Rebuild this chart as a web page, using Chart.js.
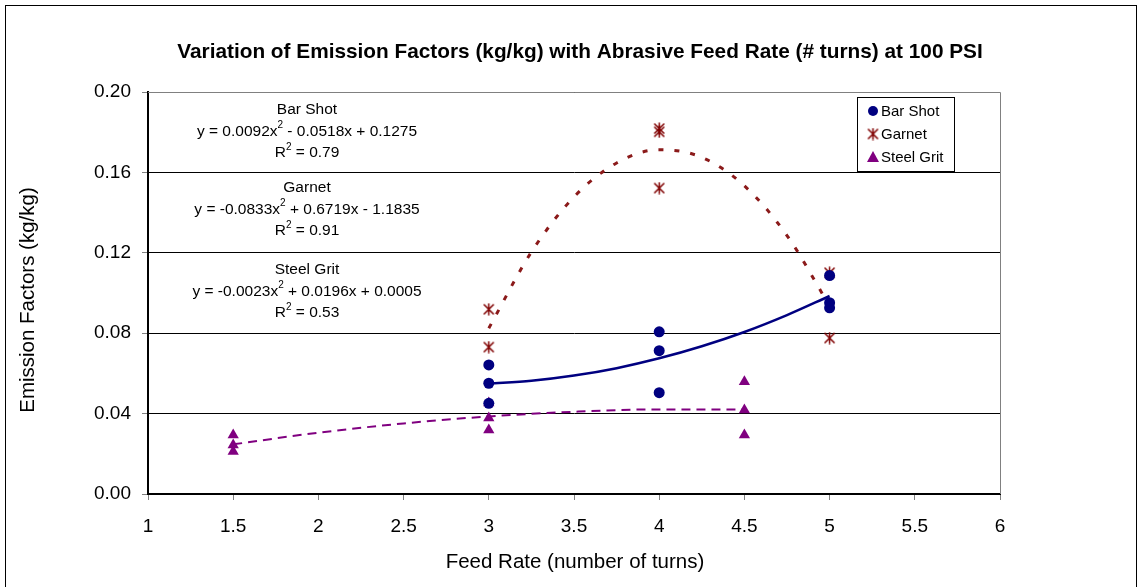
<!DOCTYPE html>
<html>
<head>
<meta charset="utf-8">
<script src="https://cdn.jsdelivr.net/npm/chart.js@4.4.1/dist/chart.umd.min.js"></script>
<style>
    html, body { margin: 0; padding: 0; background: #fff; }
    canvas { display: block; }
</style>
</head>
<body>
<canvas id="chart" width="1138" height="587"></canvas>
<script>
// Dados
const barShotX = [3, 3, 3, 4, 4, 4, 5, 5, 5];
const barShotY = [0.0642, 0.0551, 0.0451, 0.0807, 0.0713, 0.0504, 0.1087, 0.0952, 0.0926];

const garnetX = [3, 3, 4, 4, 4, 5, 5];
const garnetY = [0.0919, 0.0731, 0.1818, 0.1802, 0.1522, 0.1101, 0.0776];

const steelGritX = [1.5, 1.5, 1.5, 3, 3, 3, 4.5, 4.5, 4.5];
const steelGritY = [0.0294, 0.0244, 0.0212, 0.0453, 0.0378, 0.0318, 0.0559, 0.0418, 0.0294];

// Linhas de tendência
const barShotTrendX = [3, 3.25, 3.5, 3.75, 4, 4.25, 4.5, 4.75, 5];
const barShotTrendY = [0.0549, 0.0563, 0.0589, 0.0626, 0.0675, 0.0735, 0.0806, 0.0890, 0.0985];

const garnetTrendX = [3, 3.25, 3.5, 3.75, 4, 4.25, 4.5, 4.75, 5];
const garnetTrendY = [0.0825, 0.1204, 0.1478, 0.1647, 0.1713, 0.1675, 0.1533, 0.1286, 0.0935];

const steelTrendX = [1.5, 2, 2.5, 3, 3.5, 4, 4.5];
const steelTrendY = [0.0247, 0.0305, 0.0351, 0.0386, 0.0409, 0.0421, 0.0421];

// Textos
const chartTitle = 'Variation of Emission Factors (kg/kg) with Abrasive Feed Rate (# turns) at 100 PSI';
const xTitle = 'Feed Rate (number of turns)';
const yTitle = 'Emission Factors (kg/kg)';
const legendLabels = ['Bar Shot', 'Garnet', 'Steel Grit'];
const equationLines = [
    ['Bar Shot', 'y = 0.0092x^2 - 0.0518x + 0.1275', 'R^2 = 0.79'],
    ['Garnet', 'y = -0.0833x^2 + 0.6719x - 1.1835', 'R^2 = 0.91'],
    ['Steel Grit', 'y = -0.0023x^2 + 0.0196x + 0.0005', 'R^2 = 0.53']
];

const NAVY = '#000080';
const MAROON = '#800000';
const PURPLE = '#800080';
const FONT = '"Liberation Sans", Arial, sans-serif';

function toPoints(xs, ys) {
    return xs.map((x, i) => ({ x: x, y: ys[i] }));
}

// Marcador estrela estilo Excel
function makeStar(color, size) {
    const c = document.createElement('canvas');
    c.width = size;
    c.height = size;
    const g = c.getContext('2d');
    g.strokeStyle = color;
    g.lineWidth = 1.5;
    const m = 1.5;
    g.beginPath();
    g.moveTo(m, m); g.lineTo(size - m, size - m);
    g.moveTo(size - m, m); g.lineTo(m, size - m);
    g.moveTo(size / 2, 0.5); g.lineTo(size / 2, size - 0.5);
    g.stroke();
    return c;
}
const starImg = makeStar(MAROON, 13);

// Texto centrado com expoente ("^2")
function drawSupText(ctx, text, cx, cy, size) {
    const parts = text.split('^2');
    const big = size + 'px ' + FONT;
    const small = Math.round(size * 0.62) + 'px ' + FONT;
    ctx.font = big;
    let total = parts.reduce((w, p) => w + ctx.measureText(p).width, 0);
    ctx.font = small;
    const supW = ctx.measureText('2').width;
    total += supW * (parts.length - 1);
    let x = cx - total / 2;
    ctx.textAlign = 'left';
    parts.forEach((p, i) => {
        ctx.font = big;
        ctx.fillText(p, x, cy);
        x += ctx.measureText(p).width;
        if (i < parts.length - 1) {
            ctx.font = small;
            ctx.fillText('2', x, cy - size * 0.38);
            x += supW;
        }
    });
}

// Plugin para título, bordas, equações e legenda
const decorPlugin = {
    id: 'decor',
    afterDraw(chart) {
        const ctx = chart.ctx;
        const a = chart.chartArea;
        ctx.save();

        // borda externa
        ctx.strokeStyle = '#000';
        ctx.lineWidth = 1;
        ctx.strokeRect(5.5, 5.5, 1131, 600);

        // borda da área de plotagem (topo e direita)
        ctx.strokeStyle = '#808080';
        ctx.beginPath();
        ctx.moveTo(a.left, a.top + 0.5);
        ctx.lineTo(a.right + 0.5, a.top + 0.5);
        ctx.lineTo(a.right + 0.5, a.bottom);
        ctx.stroke();

        // título
        ctx.fillStyle = '#000';
        ctx.textAlign = 'center';
        ctx.textBaseline = 'middle';
        ctx.font = 'bold 20.8px ' + FONT;
        ctx.fillText(chartTitle, 580, 52);

        // títulos dos eixos
        ctx.font = '20.5px ' + FONT;
        ctx.fillText(xTitle, 575, 562);
        ctx.save();
        ctx.translate(28, 300);
        ctx.rotate(-Math.PI / 2);
        ctx.fillText(yTitle, 0, 0);
        ctx.restore();

        // equações
        const eqTops = [110, 188, 270];
        equationLines.forEach((lines, i) => {
            lines.forEach((t, j) => {
                drawSupText(ctx, t, 307, eqTops[i] + j * 21.5, 15.5);
            });
        });

        // legenda
        ctx.fillStyle = '#fff';
        ctx.fillRect(857, 97, 97, 74);
        ctx.strokeStyle = '#000';
        ctx.strokeRect(857.5, 97.5, 97, 74);
        ctx.font = '15px ' + FONT;
        ctx.textAlign = 'left';
        const ly = [111, 134, 157];
        ctx.fillStyle = NAVY;
        ctx.beginPath();
        ctx.arc(873, ly[0], 5, 0, Math.PI * 2);
        ctx.fill();
        ctx.drawImage(starImg, 866.5, ly[1] - 6.5);
        ctx.fillStyle = PURPLE;
        ctx.beginPath();
        ctx.moveTo(873, ly[2] - 6);
        ctx.lineTo(879, ly[2] + 5);
        ctx.lineTo(867, ly[2] + 5);
        ctx.closePath();
        ctx.fill();
        ctx.fillStyle = '#000';
        legendLabels.forEach((t, i) => ctx.fillText(t, 881, ly[i] + 1));

        ctx.restore();
    }
};

const ctx = document.getElementById('chart');

new Chart(ctx, {
    type: 'scatter',
    data: {
        datasets: [
            {
                label: 'Bar Shot',
                data: toPoints(barShotX, barShotY),
                pointStyle: 'circle',
                pointRadius: 5.5,
                backgroundColor: NAVY,
                borderColor: NAVY,
                borderWidth: 0,
                order: 1
            },
            {
                label: 'Garnet',
                data: toPoints(garnetX, garnetY),
                pointStyle: starImg,
                pointRadius: 6,
                order: 1
            },
            {
                label: 'Steel Grit',
                data: toPoints(steelGritX, steelGritY),
                pointStyle: 'triangle',
                pointRadius: 6.5,
                backgroundColor: PURPLE,
                borderColor: PURPLE,
                borderWidth: 0,
                order: 1
            },
            {
                label: 'Bar Shot trend',
                data: toPoints(barShotTrendX, barShotTrendY),
                showLine: true,
                pointRadius: 0,
                borderColor: NAVY,
                borderWidth: 2.5,
                cubicInterpolationMode: 'monotone',
                order: 2
            },
            {
                label: 'Garnet trend',
                data: toPoints(garnetTrendX, garnetTrendY),
                showLine: true,
                pointRadius: 0,
                borderColor: '#8B1a1a',
                borderWidth: 3,
                borderDash: [5, 11],
                cubicInterpolationMode: 'monotone',
                order: 2
            },
            {
                label: 'Steel Grit trend',
                data: toPoints(steelTrendX, steelTrendY),
                showLine: true,
                pointRadius: 0,
                borderColor: PURPLE,
                borderWidth: 2,
                borderDash: [9, 6],
                cubicInterpolationMode: 'monotone',
                order: 2
            }
        ]
    },
    options: {
        responsive: false,
        animation: false,
        events: [],
        layout: {
            padding: { top: 92, left: 0, right: 138, bottom: 0 }
        },
        plugins: {
            legend: { display: false },
            tooltip: { enabled: false },
            title: { display: false }
        },
        scales: {
            x: {
                type: 'linear',
                min: 1,
                max: 6,
                afterFit: s => { s.height = 93; },
                ticks: {
                    stepSize: 0.5,
                    color: '#000',
                    font: { family: FONT, size: 19 },
                    padding: 15,
                    maxRotation: 0,
                    callback: v => String(v)
                },
                grid: {
                    drawOnChartArea: false,
                    tickLength: 6,
                    tickColor: '#808080'
                },
                border: { color: '#000', width: 2 }
            },
            y: {
                min: 0,
                max: 0.2,
                afterFit: s => { s.width = 148; },
                ticks: {
                    stepSize: 0.04,
                    color: '#000',
                    font: { family: FONT, size: 19 },
                    padding: 11,
                    callback: v => v.toFixed(2)
                },
                grid: {
                    color: '#000',
                    lineWidth: 1,
                    tickLength: 6,
                    tickColor: '#808080'
                },
                border: { color: '#000', width: 2 }
            }
        }
    },
    plugins: [decorPlugin]
});
</script>
</body>
</html>
